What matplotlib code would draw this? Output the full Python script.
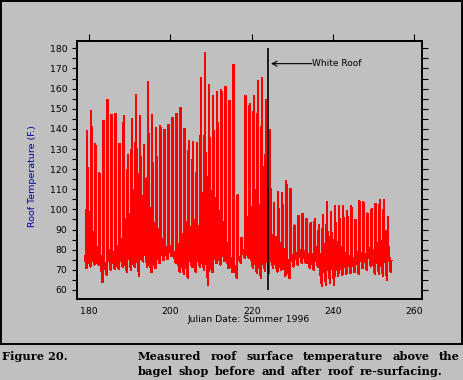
import matplotlib
matplotlib.use("Agg")
import matplotlib.pyplot as plt
from matplotlib.patches import Rectangle
from matplotlib.ticker import MultipleLocator, FixedLocator, NullFormatter

# ---------------- data ----------------
days = list(range(179, 254))
daily_min = [70.9, 71.7, 72.6, 72.6, 63.8, 67.6, 70.0, 70.6, 70.5, 71.4,
             68.8, 70.0, 71.5, 67.1, 74.2, 71.5, 68.8, 70.8, 73.4, 74.7,
             75.4, 76.7, 73.4, 68.8, 68.1, 66.0, 71.4, 68.8, 71.4, 70.0,
             62.6, 68.8, 73.4, 72.6, 74.2, 70.9, 68.9, 66.0, 73.4, 75.9,
             75.7, 70.9, 68.4, 66.0, 69.7, 68.4, 70.9, 69.2, 70.0, 67.1,
             66.0, 71.7, 72.6, 73.4, 73.4, 70.9, 70.0, 71.4, 61.8, 62.6,
             63.5, 62.6, 67.1, 67.6, 68.1, 68.4, 68.8, 68.1, 70.9, 70.0,
             71.7, 68.1, 68.1, 67.1, 65.1]
daily_peak = [139.0, 149.0, 132.6, 118.0, 144.0, 154.4, 147.0, 147.4, 132.6, 146.4,
              127.0, 145.0, 157.0, 146.4, 132.0, 163.3, 147.0, 140.5, 141.5, 139.5,
              142.0, 145.5, 147.4, 150.4, 140.0, 134.0, 133.6, 133.0, 165.3, 177.7,
              161.8, 156.4, 158.3, 159.3, 160.8, 153.9, 171.7, 107.0, 85.8, 156.4,
              152.4, 156.4, 163.8, 165.3, 154.4, 139.5, 103.0, 108.7, 108.0, 114.2,
              110.2, 92.0, 96.7, 97.8, 95.2, 93.0, 95.0, 92.0, 97.0, 103.5,
              98.8, 101.5, 101.5, 101.5, 99.2, 101.5, 94.9, 104.0, 103.5, 98.0,
              100.0, 102.8, 104.5, 104.8, 96.0]
daily_shoulder = [115.0, 130.0, 127.0, 104.0, 100.0, 147.0, 122.0, 125.0, 107.0, 128.0,
                  118.0, 134.7, 153.0, 139.0, 120.0, 136.5, 111.0, 100.0, 103.0, 104.0,
                  97.0, 142.5, 144.0, 143.0, 137.0, 112.0, 115.0, 102.0, 121.0, 138.5,
                  139.5, 138.5, 131.0, 157.0, 144.5, 136.5, 136.5, 95.0, 80.0, 153.0,
                  147.4, 153.0, 126.0, 145.5, 145.5, 116.0, 87.0, 98.0, 96.0, 104.0,
                  100.0, 85.0, 90.0, 91.0, 88.0, 86.0, 89.0, 85.0, 90.0, 95.0,
                  92.0, 96.0, 95.0, 94.0, 92.0, 95.0, 86.0, 97.0, 96.0, 91.0,
                  93.0, 96.0, 97.0, 98.0, 83.0]
daily_evening = [76, 77, 75, 78, 74, 80, 76, 73, 77, 75,
                 79, 74, 78, 76, 80, 77, 75, 79, 81, 80,
                 82, 79, 76, 74, 75, 77, 73, 76, 75, 78,
                 74, 79, 80, 81, 77, 75, 72, 76, 80, 79,
                 78, 76, 74, 75, 77, 76, 75, 74, 77, 73,
                 78, 79, 80, 79, 76, 75, 77, 72, 73, 74,
                 76, 77, 78, 79, 78, 77, 80, 79, 78, 80,
                 77, 78, 76, 80, 79]
start_value = 77.0
end_values = [69.2, 74.5]
roof_change_day = 224
x_ticks = [180, 200, 220, 240, 260]
y_ticks = list(range(60, 181, 10))

# ---------------- build the series ----------------
t = [179.0]
v = [start_value]
for d, mn, pk, sh, ev in zip(days, daily_min, daily_peak, daily_shoulder, daily_evening):
    t += [d + 0.3, d + 0.5, d + 0.55, d + 0.7]
    v += [mn, pk, sh, ev]
t += [254.2, 254.35]
v += end_values

W, H = 463, 380
BG = "#c0c0c0"
fig = plt.figure(figsize=(W / 100, H / 100), dpi=100, facecolor=BG)
ax = fig.add_axes([77 / W, 1 - 299 / H, (422 - 77) / W, (299 - 40.7) / H])
ax.set_facecolor(BG)

ax.plot(t, v, color="#ff0000", lw=1.0, antialiased=False)
ax.vlines(roof_change_day, 60, 180, color="black", lw=1.2)
ax.annotate("", xy=(224.75, 172.4), xytext=(234.8, 172.4),
            arrowprops=dict(arrowstyle="->,head_length=0.35,head_width=0.18",
                            lw=0.8, color="black", shrinkA=0, shrinkB=0))
ax.text(234.8, 172.6, "White Roof", fontsize=6.5, ha="left", va="center",
        family="DejaVu Sans")

ax.set_xlim(177.0, 261.9)
ax.set_ylim(55.5, 183.8)

for s in ax.spines.values():
    s.set_linewidth(1.4)

# x ticks: marks on top only, labels at bottom
ax.xaxis.set_major_locator(FixedLocator(x_ticks))
ax.tick_params(axis="x", which="major", direction="out", length=5.0, width=0.8,
               top=True, bottom=False, labeltop=False, labelbottom=True,
               labelsize=6.7, pad=0.6)
# y ticks
ax.yaxis.set_major_locator(FixedLocator(y_ticks))
ax.yaxis.set_minor_locator(MultipleLocator(5))
ax.tick_params(axis="y", which="both", direction="out", length=3.4, width=0.8,
               left=True, right=False, labelsize=6.7, pad=3.6)
ax2 = ax.twinx()
ax2.set_ylim(ax.get_ylim())
ax2.yaxis.set_major_locator(MultipleLocator(5))
ax2.yaxis.set_major_formatter(NullFormatter())
ax2.tick_params(axis="y", which="both", direction="out", length=4.4, width=0.8,
                right=True, left=False)
for s in ax2.spines.values():
    s.set_visible(False)

fig.text(32.7 / W, 1 - 176 / H, "Roof Temperature (F.)", rotation=90,
         ha="center", va="center", fontsize=6.8, color="#000099")
fig.text(249 / W, 1 - 320 / H, "Julian Date: Summer 1996", ha="center",
         va="center", fontsize=6.7)

# border around the chart panel
fig.patches.append(Rectangle((0.8 / W, 1 - 344.3 / H), 461.4 / W, 343.5 / H,
                             transform=fig.transFigure, fill=False,
                             lw=1.4, edgecolor="black"))

# caption
cap_font = dict(family="DejaVu Serif", weight="bold", fontsize=8.2)
fig.text(2 / W, 1 - 360 / H, "Figure 20.", va="baseline", ha="left", **cap_font)

renderer = fig.canvas.get_renderer()


def justify(words, x0, x1, ybase):
    objs = [fig.text(0, 1 - ybase / H, w, va="baseline", ha="left", **cap_font)
            for w in words]
    widths = [o.get_window_extent(renderer).width for o in objs]
    gap = (x1 - x0 - sum(widths)) / (len(words) - 1)
    x = x0
    for o, w in zip(objs, widths):
        o.set_x(x / W)
        x += w + gap


justify("Measured roof surface temperature above the".split(), 138, 460, 360)
justify("bagel shop before and after roof re-surfacing.".split(), 138, 442, 375)

fig.savefig("out.png", dpi=100, facecolor=BG)
